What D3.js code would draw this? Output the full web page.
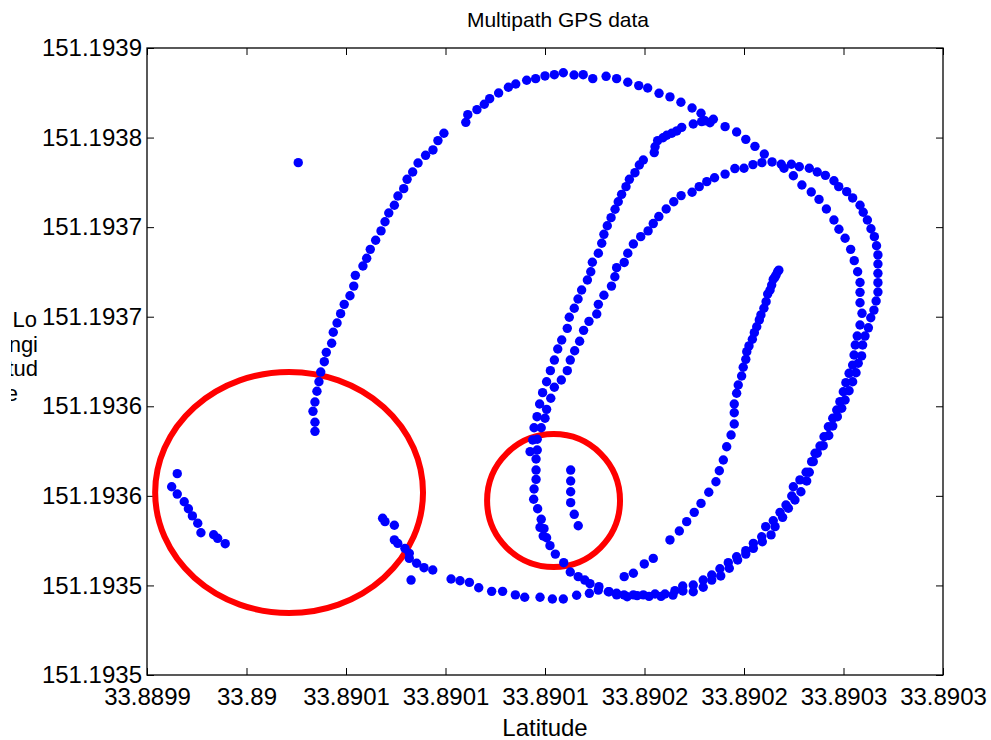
<!DOCTYPE html>
<html>
<head>
<meta charset="utf-8">
<script src="https://cdn.jsdelivr.net/npm/d3@7"></script>
<style>
  body { margin: 0; background: #fff; }
  text { font-family: "Liberation Sans", Arial, Helvetica, sans-serif; fill: #000; }
</style>
</head>
<body>
<div id="container"></div>
<script>
// tick labels as printed on the figure (values are micro-degree offsets)
var latTickLabels = ["33.8899", "33.89", "33.8901", "33.8901", "33.8901", "33.8902", "33.8902", "33.8903", "33.8903"];
var lonTickLabels = ["151.1935", "151.1935", "151.1936", "151.1936", "151.1937", "151.1937", "151.1938", "151.1939"];

// GPS fixes: [lat offset, lon offset] in 1e-6 deg from 33.8899 / 151.1935
var outerLoop = [
  [84.4,136.0],[84.4,141.1],[83.4,147.2],[84.4,152.4],[85.4,158.4],[86.4,163.7],[87.3,169.1],[89.1,174.9],[90.1,180.1],[92.8,185.2],
  [93.6,191.3],[95.5,196.5],[97.3,201.7],[99.1,206.9],[102.0,211.7],[103.9,217.1],[104.7,223.1],[108.5,228.3],[110.4,232.6],[112.2,237.6],
  [114.9,242.7],[117.6,247.9],[119.6,253.0],[121.5,257.9],[124.3,262.2],[126.1,267.4],[129.0,271.5],[130.7,276.7],[133.5,280.8],[136.2,285.8],
  [140.0,290.1],[143.7,293.1],[146.2,298.3],[149.2,302.4],
  [160.2,308.5],[161.2,312.8],[165.8,315.6],[169.5,318.6],[172.2,321.7],[176.7,324.9],[181.6,328.1],[185.3,329.9],[190.8,332.0],[195.3,332.9],
  [200.0,334.4],[204.7,335.1],[209.2,336.2],[214.6,334.9],[219.2,335.1],[224.0,332.9],[230.7,334.2],[236.0,332.9],[241.6,330.9],[247.1,329.0],
  [251.6,327.7],[257.3,324.7],[262.8,322.7],[268.3,319.7],[273.9,316.5],[278.4,313.6],[284.6,310.2],[290.5,306.1],[296.3,303.1],[300.9,299.0],
  [305.5,295.1],[310.2,290.8],[320.1,282.9],[324.8,278.7],[329.1,273.5],[333.8,269.6],[337.7,265.5],[341.4,260.1],[345.2,254.0],[347.7,248.8],
  [350.8,243.8],[353.6,237.6],[355.4,231.3],[357.1,225.1],[358.3,219.1],[358.3,213.6],[358.3,207.8],[359.3,201.9],[358.3,195.4],[356.9,189.2],
  [355.9,184.2],[355.3,178.6],[354.6,173.0],[352.8,168.4],[351.2,163.2],[349.9,158.1],[348.2,152.6],[346.6,147.9],[344.6,143.3],[342.4,138.6],
  [340.2,133.0],[338.2,127.8],[335.7,123.8],[334.0,119.1],[331.2,113.2],[328.1,108.9],[324.8,105.1],[324.0,99.9],[321.1,94.9],[318.1,90.8],
  [314.7,86.1],[310.9,82.8],[308.9,77.2],[304.7,73.5],[300.9,69.4],[296.3,66.0],[292.1,62.7],[287.9,59.3],[283.8,55.8],[279.5,53.0],
  [274.5,50.2],[269.2,49.7],[265.3,47.1],[260.3,45.2],[255.3,45.2],[249.4,44.7],[244.4,44.7],[239.7,44.7],[236.0,45.6],[231.8,46.5],
  [227.1,49.3],[222.6,51.0],[220.0,53.0],[216.7,54.9],[212.7,57.5],[209.4,62.7],[205.2,67.5],[202.5,72.2],[200.8,76.6],[199.1,77.6],
  [199.5,81.7],[197.5,82.4],[198.1,86.9],[196.3,92.8],[194.3,98.1],[194.5,103.8],[195.5,109.2],[195.5,114.4],[195.5,120.6]
];

var middleArc = [
  [196.1,125.6],[196.1,131.6],[198.1,138.0],[200.0,143.3],[200.8,148.3],[202.9,154.5],[204.7,160.6],[208.2,164.7],[211.2,169.9],[212.7,175.8],
  [214.9,181.0],[217.4,186.3],[219.4,192.4],[222.1,197.4],[226.0,201.5],[226.8,206.9],[229.6,212.0],[233.4,217.1],[235.1,222.3],[236.0,227.4],
  [239.8,230.3],[241.6,235.4],[244.4,240.6],[248.1,244.7],[251.8,247.9],[254.4,252.0],[257.2,255.9],[260.9,260.1],[264.7,264.2],[268.4,267.6],
  [273.9,269.5],[277.5,272.6],[281.3,275.4],[285.2,277.6],[290.5,279.6],[295.4,282.7],[300.0,282.9],[304.5,284.9],[309.0,286.0],[314.1,286.4],
  [318.7,285.1],[323.8,285.1],[327.8,283.7],[332.8,282.9],[336.8,280.8],[340.9,278.9],[345.2,275.9],[347.6,272.6],[351.6,269.8],[354.6,266.3],
  [358.3,262.2],[359.9,258.3],[362.0,254.0],[363.8,249.1],[365.5,244.7],[366.6,239.6],[367.3,234.5],[367.3,229.4],[367.3,224.2],[367.3,219.0],
  [367.3,213.8],[366.4,208.8],[365.3,203.7],[363.7,199.4],[362.5,193.8],[360.8,189.2],[359.6,184.2],[359.1,178.1],[357.4,174.0],[356.3,168.7],
  [354.6,163.7],[352.8,158.7],[350.8,153.5],[349.1,148.9],[346.9,144.2],[344.6,139.0],[342.6,133.7],[339.8,128.0],[336.8,123.8],[334.8,119.1],
  [332.8,113.2],[331.5,108.3],[328.6,102.3],[325.6,97.7],[322.3,93.1],[319.4,88.0],[315.6,82.8],[313.6,78.2],[309.2,74.4],[304.7,70.7],
  [300.9,67.5],[296.8,64.2],[292.6,59.6],[288.3,55.3],[283.8,53.0],[279.5,49.0],[274.5,46.5],[269.3,46.9],[264.3,44.6],[258.3,43.9],
  [252.3,43.9],[246.3,44.3],[241.3,43.7],[236.0,44.7],[232.3,46.5],[226.8,47.4],[222.3,45.6],[215.9,44.5],[209.2,42.4],[203.7,42.4],
  [197.5,43.4],[189.8,43.4],[185.1,44.7],[178.7,46.7],[173.2,46.7],[166.7,48.7],[162.0,51.7],[157.3,52.6],[152.8,53.6],[143.6,58.6],
  [139.2,59.9],[135.5,62.4],[131.8,65.1],[131.8,67.9],[129.6,70.7],[126.0,73.5],[124.3,75.4],[124.3,83.6],[119.6,85.6],[118.4,87.5]
];

var innerBranch = [
  [282.9,308.3],[280.4,309.4],[278.7,308.9],[274.5,307.6],[268.7,305.7],[266.2,303.7],[263.7,302.4],[261.2,301.3],[259.3,299.9],[256.6,298.3],
  [255.3,294.9],[254.9,291.6],[249.4,287.5],[247.4,284.7],[245.2,280.4],[242.4,276.7],[240.7,272.6],[238.5,268.3],[236.8,264.2],[235.2,260.0],
  [233.2,255.3],[231.3,250.8],[229.6,246.0],[228.5,241.0],[226.8,235.4],[223.8,230.4],[223.0,225.1],[221.3,220.5],[218.4,214.9],[216.6,209.9],
  [214.7,204.7],[212.2,199.7],[211.2,193.5],[208.4,187.0],[206.4,182.0],[204.7,175.8],[202.7,169.9],[200.8,163.7],[198.8,157.6],[197.3,151.3],
  [196.0,144.2],[194.5,138.0],[193.8,131.2],[192.5,124.7]
];

var diagonal = [
  [317.5,226.0],[316.9,225.1],[316.1,223.3],[315.5,222.0],[314.7,220.9],[313.9,217.7],[313.1,214.9],[311.9,212.7],[311.1,208.4],[310.0,204.7],
  [308.5,201.0],[307.7,198.2],[306.4,194.4],[305.2,191.1],[304.2,187.4],[302.5,183.7],[301.4,180.5],[300.9,176.2],[299.6,171.8],[298.8,166.9],
  [297.1,161.9],[296.3,157.3],[295.1,151.3],[295.1,146.4],[295.1,140.1],[293.5,134.0],[291.3,127.4],[289.6,120.0],[287.6,114.0],[285.9,107.9],
  [282.3,102.0],[278.4,95.8],[275.0,90.8],[271.2,85.6],[267.5,80.4],[262.8,75.4],[254.4,65.1],[249.9,62.0],[244.4,56.8],[239.8,54.9]
];

var stubTrack = [[212.9,114.4],[212.9,108.3],[212.9,102.3],[212.9,96.2],[214.7,89.7],[216.7,83.3]];

var leftCluster = [
  [15.2,112.4],[12.4,105.1],[15.2,101.0],[18.7,96.7],[20.8,92.8],[22.8,88.8],[25.5,84.7],[27.1,79.4],[33.5,78.3],[35.5,76.3],[39.3,73.3]
];

var strays = [[76.0,286.0],[132.7,53.0]];

// multipath regions marked on the figure: centre and radii in the same units
var regions = [
  {cx: 71.4, cy: 101.9, rx: 67.3, ry: 67.3},
  {cx: 204.3, cy: 97.4, rx: 33.4, ry: 37.1}
];

var margin = {top: 48, right: 48, bottom: 65, left: 147},
    width = 991 - margin.left - margin.right,
    height = 740 - margin.top - margin.bottom;

var root = d3.select("#container")
  .append("svg")
    .attr("width", 991)
    .attr("height", 740);

// the wrapped y label is cut off at the left edge of the figure
root.append("defs").append("clipPath")
    .attr("id", "ylabClip")
  .append("rect")
    .attr("x", 11).attr("y", 0)
    .attr("width", 60).attr("height", 740);

var svg = root.append("g")
    .attr("transform", "translate(" + margin.left + "," + margin.top + ")");

var x = d3.scaleLinear().domain([0, 400]).range([0, width]);
var y = d3.scaleLinear().domain([0, 350]).range([height, 0]);

var xTicks = d3.range(0, 401, 50);
var yTicks = d3.range(0, 351, 50);

// bottom axis with labels, ticks pointing inward
svg.append("g")
  .attr("transform", "translate(0," + height + ")")
  .call(d3.axisBottom(x).tickValues(xTicks).tickFormat(function(d, i) { return latTickLabels[i]; })
    .tickSizeInner(-7).tickSizeOuter(0).tickPadding(13))
  .call(function(g) { g.select(".domain").remove(); })
  .selectAll("text").style("font-size", "24px");

svg.append("g")
  .call(d3.axisLeft(y).tickValues(yTicks).tickFormat(function(d, i) { return lonTickLabels[i]; })
    .tickSizeInner(-7).tickSizeOuter(0).tickPadding(5))
  .call(function(g) { g.select(".domain").remove(); })
  .selectAll("text").style("font-size", "24px");

// top and right: ticks only
svg.append("g")
  .call(d3.axisTop(x).tickValues(xTicks).tickFormat("").tickSizeInner(-7).tickSizeOuter(0))
  .call(function(g) { g.select(".domain").remove(); });
svg.append("g")
  .attr("transform", "translate(" + width + ",0)")
  .call(d3.axisRight(y).tickValues(yTicks).tickFormat("").tickSizeInner(-7).tickSizeOuter(0))
  .call(function(g) { g.select(".domain").remove(); });

svg.selectAll(".tick line").attr("stroke", "#000");

svg.append("rect")
  .attr("width", width)
  .attr("height", height)
  .attr("fill", "none")
  .attr("stroke", "#000")
  .attr("stroke-width", 1.3);

// red rings round the multipath areas
svg.append("g").selectAll("ellipse")
  .data(regions)
  .enter().append("ellipse")
    .attr("cx", function(d) { return x(d.cx); })
    .attr("cy", function(d) { return y(d.cy); })
    .attr("rx", function(d) { return x(d.cx + d.rx) - x(d.cx); })
    .attr("ry", function(d) { return y(d.cy) - y(d.cy + d.ry); })
    .attr("fill", "none")
    .attr("stroke", "#ff0000")
    .attr("stroke-width", 6);

var allFixes = [].concat(outerLoop, middleArc, innerBranch, diagonal, stubTrack, leftCluster, strays);

svg.append("g").selectAll("circle")
  .data(allFixes)
  .enter().append("circle")
    .attr("cx", function(d) { return x(d[0]); })
    .attr("cy", function(d) { return y(d[1]); })
    .attr("r", 4.7)
    .attr("fill", "#0000ff");

// titles
svg.append("text")
  .attr("x", width / 2 + 13)
  .attr("y", -21)
  .attr("text-anchor", "middle")
  .style("font-size", "21px")
  .text("Multipath GPS data");

svg.append("text")
  .attr("x", width / 2)
  .attr("y", height + 61)
  .attr("text-anchor", "middle")
  .style("font-size", "24px")
  .text("Latitude");

var yLabelLines = [["Lo", 37], ["ngi", 38], ["tud", 38], ["e", 18]];
root.append("g")
    .attr("clip-path", "url(#ylabClip)")
  .selectAll("text")
  .data(yLabelLines)
  .enter().append("text")
    .attr("x", function(d) { return d[1]; })
    .attr("y", function(d, i) { return 327 + i * 24.5; })
    .attr("text-anchor", "end")
    .style("font-size", "22px")
    .text(function(d) { return d[0]; });
</script>
</body>
</html>
